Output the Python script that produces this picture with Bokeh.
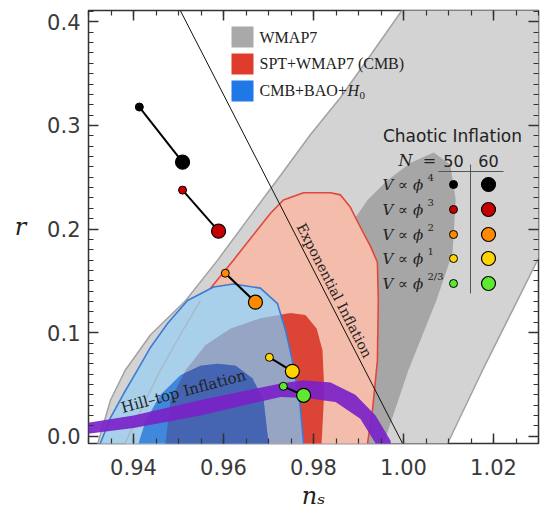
import numpy as np
from bokeh.plotting import figure
from bokeh.models import (Range1d, LinearAxis, Label, FixedTicker, PrintfTickFormatter,
                          CustomJSTickFormatter)
from bokeh.embed import file_html
from bokeh.resources import INLINE

# ---------------- data ----------------
# WMAP7 95% region (n_s, r)
gray95_ns = [0.9305, 0.9349, 0.9382, 0.9438, 0.9516, 0.9587, 0.9660, 0.9727, 0.9793, 0.9860, 0.9927, 0.9998, 1.0040,
             1.0500, 1.0500, 1.0300, 1.0253, 1.0176, 1.0098, 1.0082]
gray95_r = [-0.030, 0.035, 0.064, 0.098, 0.131, 0.170, 0.213, 0.252, 0.291, 0.327, 0.368, 0.412, 0.430,
            0.430, 0.346, 0.172, 0.131, 0.064, -0.007, -0.030]
# WMAP7 68% region
gray68_ns = [0.9767, 0.9782, 0.9816, 0.9849, 0.9882, 0.9920, 0.9964, 1.0016, 1.0067, 1.0104, 1.0116, 1.0109,
             1.0073, 1.0011, 0.9956, 0.9949]
gray68_r = [-0.030, 0.035, 0.102, 0.160, 0.204, 0.228, 0.247, 0.264, 0.274, 0.262, 0.228, 0.177,
            0.131, 0.064, -0.007, -0.030]
# SPT+WMAP7 95%
red95_ns = [0.9376, 0.9382, 0.9416, 0.9460, 0.9504, 0.9549, 0.9622, 0.9671, 0.9704, 0.9733, 0.9778, 0.9838,
            0.9860, 0.9882, 0.9904, 0.9927, 0.9942, 0.9944, 0.9942, 0.9931, 0.9920, 0.9918]
red95_r = [-0.030, -0.006, 0.025, 0.064, 0.098, 0.131, 0.170, 0.197, 0.215, 0.228, 0.235, 0.235,
           0.233, 0.221, 0.202, 0.183, 0.168, 0.131, 0.073, 0.025, -0.007, -0.030]
# SPT+WMAP7 68%
red68_ns = [0.9471, 0.9471, 0.9482, 0.9516, 0.9560, 0.9616, 0.9682, 0.9749, 0.9782, 0.9807, 0.9820, 0.9824,
            0.9818, 0.9818]
red68_r = [-0.030, -0.007, 0.035, 0.064, 0.088, 0.104, 0.114, 0.119, 0.117, 0.104, 0.083, 0.044,
           -0.007, -0.030]
# CMB+BAO+H0 95%
blue95_ns = [0.9322, 0.9327, 0.9349, 0.9378, 0.9409, 0.9438, 0.9476, 0.9520, 0.9578, 0.9622, 0.9682, 0.9720,
             0.9738, 0.9753, 0.9769, 0.9778, 0.9779]
blue95_r = [-0.030, -0.006, 0.018, 0.041, 0.064, 0.086, 0.109, 0.131, 0.144, 0.147, 0.143, 0.128,
            0.102, 0.073, 0.035, -0.007, -0.030]
# CMB+BAO+H0 68%
blue68_ns = [0.9409, 0.9411, 0.9427, 0.9460, 0.9504, 0.9549, 0.9587, 0.9627, 0.9664, 0.9689, 0.9700, 0.9700]
blue68_r = [-0.030, -0.007, 0.015, 0.040, 0.059, 0.068, 0.070, 0.068, 0.056, 0.035, -0.007, -0.030]
# Hill-top inflation band (upper edge left->right, lower edge right->left)
hill_ns = [0.9250, 0.9293, 0.9400, 0.9549, 0.9727, 0.9778, 0.9838, 0.9893, 0.9938, 0.9971, 0.9982,
           0.9944, 0.9938, 0.9904, 0.9849, 0.9782, 0.9727, 0.9549, 0.9400, 0.9293, 0.9250]
hill_r = [0.010, 0.0125, 0.020, 0.035, 0.051, 0.054, 0.052, 0.040, 0.020, -0.004, -0.030,
          -0.030, -0.007, 0.017, 0.033, 0.037, 0.038, 0.020, 0.008, 0.002, 0.000]
# Exponential inflation line
exp_ns = [0.9504, 0.9998]
exp_r = [0.411, -0.007]
# Chaotic inflation predictions
models = ["4", "3", "2", "1", "2/3"]
ns_N50 = [0.9413, 0.9509, 0.9604, 0.9702, 0.9733]
r_N50 = [0.3178, 0.2376, 0.1574, 0.0762, 0.0482]
ns_N60 = [0.9509, 0.9589, 0.9671, 0.9753, 0.9778]
r_N60 = [0.2646, 0.1980, 0.1294, 0.0627, 0.0395]
model_colors = ["#000000", "#c40000", "#ff8a00", "#ffd400", "#5ee830"]

x_ticks = [0.94, 0.96, 0.98, 1.00, 1.02]
y_ticks = [0.0, 0.1, 0.2, 0.3, 0.4]

# ---------------- figure ----------------
X0, X1 = 0.93, 1.03
Y0, Y1 = -0.007, 0.411
L, T, FW, FH = 88, 10, 450, 433


def dx(px):
    return X0 + (px - L) * (X1 - X0) / FW


def dy(py):
    return Y1 - (py - T) * (Y1 - Y0) / FH


p = figure(width=549, height=519, x_range=Range1d(X0, X1), y_range=Range1d(Y0, Y1),
           output_backend="svg", toolbar_location=None,
           min_border_left=L, min_border_right=549 - L - FW, min_border_top=T,
           min_border_bottom=519 - T - FH)
p.xgrid.visible = False
p.ygrid.visible = False
p.outline_line_color = "#333333"
p.outline_line_width = 1.5
p.background_fill_color = "white"

xb = p.below[0]
yl = p.left[0]

xt = FixedTicker(ticks=x_ticks, minor_ticks=list(np.round(np.arange(0.93, 1.0301, 0.005), 3)))
yt = FixedTicker(ticks=y_ticks, minor_ticks=list(np.round(np.arange(0.0, 0.4101, 0.01), 3)))

top = LinearAxis()
right = LinearAxis()
p.add_layout(top, "above")
p.add_layout(right, "right")

for ax, tk in [(xb, xt), (top, xt), (yl, yt), (right, yt)]:
    ax.ticker = tk
    ax.axis_line_color = None
    ax.major_tick_in = 10
    ax.major_tick_out = 0
    ax.minor_tick_in = 5
    ax.minor_tick_out = 0
    ax.major_tick_line_color = "#333333"
    ax.minor_tick_line_color = "#333333"
    ax.major_tick_line_width = 1.5
    ax.minor_tick_line_width = 1.2
    ax.major_label_text_font = "DejaVu Sans"
    ax.major_label_text_color = "#3a3a3a"
    ax.major_label_text_font_size = "21px"

for ax in (top, right):
    ax.formatter = CustomJSTickFormatter(code="return ''")
    ax.major_label_standoff = 0

xb.formatter = PrintfTickFormatter(format="%.2f")
yl.formatter = PrintfTickFormatter(format="%.1f")
xb.major_label_standoff = 15
yl.major_label_standoff = 8

yl.axis_label = "r"
yl.axis_label_orientation = "horizontal"
yl.axis_label_text_font = "DejaVu Serif"
yl.axis_label_text_font_style = "italic"
yl.axis_label_text_font_size = "24px"
yl.axis_label_text_color = "#222222"
yl.axis_label_standoff = 18

xb.axis_label = "n\u209b"
xb.axis_label_text_font = "DejaVu Serif"
xb.axis_label_text_font_style = "italic"
xb.axis_label_text_font_size = "24px"
xb.axis_label_text_color = "#222222"
xb.axis_label_standoff = 4


def clip_poly(subj, clip):
    def area(pl):
        return 0.5 * sum(pl[i][0] * pl[(i + 1) % len(pl)][1] - pl[(i + 1) % len(pl)][0] * pl[i][1]
                         for i in range(len(pl)))
    if area(clip) < 0:
        clip = clip[::-1]
    out = list(subj)
    for i in range(len(clip)):
        A, B = clip[i], clip[(i + 1) % len(clip)]
        inp, out = out, []
        if not inp:
            break

        def side(P):
            return (B[0] - A[0]) * (P[1] - A[1]) - (B[1] - A[1]) * (P[0] - A[0])

        S = inp[-1]
        for E in inp:
            sE, sS = side(E), side(S)
            if sE >= 0:
                if sS < 0:
                    t = sS / (sS - sE)
                    out.append((S[0] + t * (E[0] - S[0]), S[1] + t * (E[1] - S[1])))
                out.append(E)
            elif sS >= 0:
                t = sS / (sS - sE)
                out.append((S[0] + t * (E[0] - S[0]), S[1] + t * (E[1] - S[1])))
            S = E
    return out


red68 = list(zip(red68_ns, red68_r))
blue95 = list(zip(blue95_ns, blue95_r))
blue68 = list(zip(blue68_ns, blue68_r))
gb = clip_poly(red68, blue95)
nv = clip_poly(red68, blue68)

# contours
p.patch(gray95_ns, gray95_r, fill_color="#d3d3d3", line_color="#a2a2a2", line_width=1.5)
p.patch(gray68_ns, gray68_r, fill_color="#a6a6a6", line_color=None)
p.patch(red95_ns, red95_r, fill_color="#f4bcab", line_color=None)
p.patch(red68_ns, red68_r, fill_color="#dc4536", line_color=None)
p.line(red95_ns, red95_r, line_color="#e0473b", line_width=1.6)
p.patch(blue95_ns, blue95_r, fill_color="#a9d0ea", line_color=None)
p.patch([q[0] for q in gb], [q[1] for q in gb], fill_color="#97a5c5", line_color=None)
p.line(red95_ns[:6], red95_r[:6], line_color="#a9b6c4", line_width=1.3)
p.patch(blue68_ns, blue68_r, fill_color="#3f88dc", line_color=None)
p.patch([q[0] for q in nv], [q[1] for q in nv], fill_color="#4565b2", line_color=None)
p.line(blue95_ns, blue95_r, line_color="#3b7bd6", line_width=1.6)

# hill-top band
p.patch(hill_ns, hill_r, fill_color="#7a22c8", fill_alpha=0.92, line_color=None)

# exponential inflation
p.line(exp_ns, exp_r, line_color="#111111", line_width=1)

# chaotic inflation
p.segment(x0=ns_N50, y0=r_N50, x1=ns_N60, y1=r_N60, line_color="black", line_width=2)
p.scatter(ns_N50, r_N50, size=8, fill_color=model_colors, line_color="black", line_width=1)
p.scatter(ns_N60, r_N60, size=14, fill_color=model_colors, line_color="black", line_width=1.2)

# texts in plot
p.add_layout(Label(x=dx(334), y=dy(290), text="Exponential Inflation", angle=-1.098,
                   text_font="DejaVu Serif", text_font_size="14px", text_color="#222222",
                   text_align="center", text_baseline="middle"))
p.add_layout(Label(x=dx(183), y=dy(391), text="Hill\u2013top Inflation", angle=0.262,
                   text_font="DejaVu Serif", text_font_size="15px", text_color="#222222",
                   text_align="center", text_baseline="middle"))

# legend (top)
leg_cols = ["#a9a9a9", "#e03c2d", "#1f78e6"]
leg_tops = [26, 53, 80]
for c, t in zip(leg_cols, leg_tops):
    p.quad(left=dx(231), right=dx(253), top=dy(t), bottom=dy(t + 21), fill_color=c, line_color=None)
p.add_layout(Label(x=dx(259), y=dy(37), text="WMAP7", text_font="Liberation Serif",
                   text_font_size="16px", text_color="#222222", text_baseline="middle"))
p.add_layout(Label(x=dx(259), y=dy(63), text="SPT+WMAP7 (CMB)", text_font="Liberation Serif",
                   text_font_size="16px", text_color="#222222", text_baseline="middle"))
p.add_layout(Label(x=dx(259), y=dy(90), text="CMB+BAO+", text_font="Liberation Serif",
                   text_font_size="16px", text_color="#222222", text_baseline="middle"))
p.add_layout(Label(x=dx(347), y=dy(90), text="H", text_font="Liberation Serif",
                   text_font_style="italic", text_font_size="16px", text_color="#222222",
                   text_baseline="middle"))
p.add_layout(Label(x=dx(359), y=dy(95), text="0", text_font="Liberation Serif",
                   text_font_size="11px", text_color="#222222", text_baseline="middle"))

# chaotic inflation table
p.add_layout(Label(x=dx(452), y=dy(135), text="Chaotic Inflation", text_font="DejaVu Sans",
                   text_font_size="17px", text_color="#222222", text_align="center",
                   text_baseline="middle"))
p.add_layout(Label(x=dx(405), y=dy(160), text="N", text_font="DejaVu Serif",
                   text_font_style="italic", text_font_size="16px", text_color="#222222",
                   text_align="center", text_baseline="middle"))
p.add_layout(Label(x=dx(429), y=dy(160), text="=", text_font="DejaVu Sans", text_font_size="16px",
                   text_color="#222222", text_align="center", text_baseline="middle"))
p.add_layout(Label(x=dx(453), y=dy(160), text="50", text_font="DejaVu Sans", text_font_size="16px",
                   text_color="#222222", text_align="center", text_baseline="middle"))
p.add_layout(Label(x=dx(488), y=dy(160), text="60", text_font="DejaVu Sans", text_font_size="16px",
                   text_color="#222222", text_align="center", text_baseline="middle"))
p.line([dx(438), dx(503)], [dy(171), dy(171)], line_color="#555555", line_width=1)
p.line([dx(470), dx(470)], [dy(164), dy(293)], line_color="#555555", line_width=1)

row_y = [184, 209, 234, 258, 283]
p.scatter([dx(453)] * 5, [dy(v) for v in row_y], size=8, fill_color=model_colors, line_color="black",
          line_width=1)
p.scatter([dx(488)] * 5, [dy(v) for v in row_y], size=14, fill_color=model_colors, line_color="black",
          line_width=1.2)
for m, yy in zip(models, row_y):
    p.add_layout(Label(x=dx(382), y=dy(yy), text="V \u221d \u03d5", text_font="DejaVu Serif",
                       text_font_style="italic", text_font_size="15px", text_color="#222222",
                       text_baseline="middle"))
    p.add_layout(Label(x=dx(427), y=dy(yy - 7), text=m, text_font="DejaVu Serif",
                       text_font_size="10px", text_color="#222222", text_baseline="middle"))

open("out.html", "w").write(file_html(p, INLINE))
